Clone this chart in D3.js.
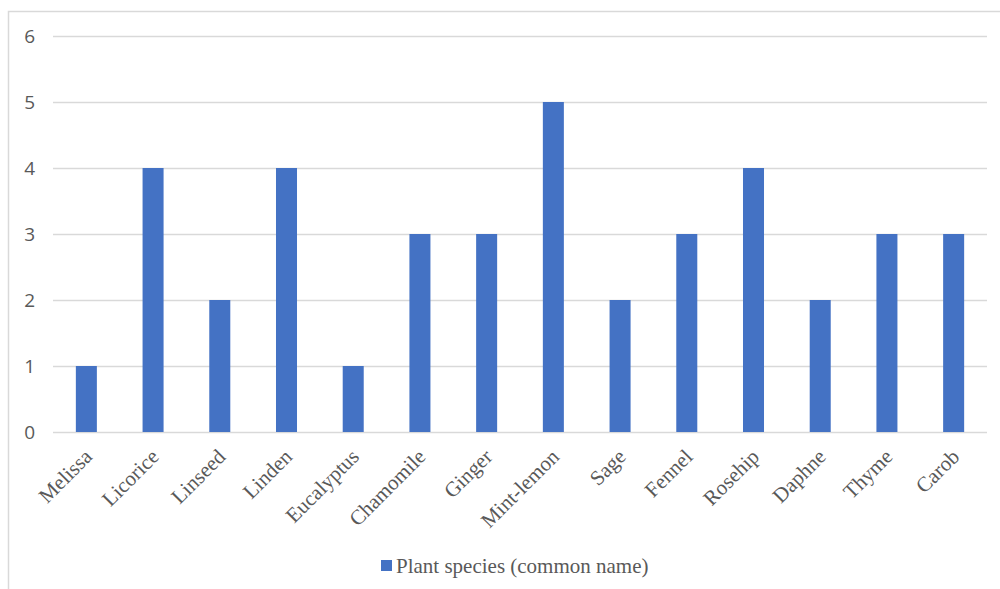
<!DOCTYPE html>
<html>
<head>
<meta charset="utf-8">
<script src="https://cdn.jsdelivr.net/npm/d3@7"></script>
<style>
  html, body { margin: 0; padding: 0; background: #fff; }
  svg { display: block; }
  .serif { font-family: "Liberation Serif", "Times New Roman", "DejaVu Serif", serif; }
  .sans { font-family: "Open Sans", "Liberation Sans", sans-serif; }
</style>
</head>
<body>
<svg id="chart" width="1000" height="589"></svg>
<script>
// Number of species per common plant name
const categories = ["Melissa", "Licorice", "Linseed", "Linden", "Eucalyptus", "Chamomile", "Ginger",
  "Mint-lemon", "Sage", "Fennel", "Rosehip", "Daphne", "Thyme", "Carob"];
const values = [1, 4, 2, 4, 1, 3, 3, 5, 2, 3, 4, 2, 3, 3];
const yTicks = [0, 1, 2, 3, 4, 5, 6];
const seriesName = "Plant species (common name)";

const svg = d3.select("#chart");
const plotLeft = 53, plotRight = 987, plotTop = 36, plotBottom = 432;

// chart frame
svg.append("rect")
  .attr("x", 8.5).attr("y", 11.5)
  .attr("width", 1100).attr("height", 700)
  .attr("fill", "#fff").attr("stroke", "#d9d9d9").attr("stroke-width", 1.5);

const x = d3.scaleBand().domain(categories).range([plotLeft, plotRight]).paddingInner(0.685).paddingOuter(0.3425);
const y = d3.scaleLinear().domain([0, 6]).range([plotBottom, plotTop]);

// gridlines and y labels
const yAxis = d3.axisLeft(y).tickValues(yTicks).tickSize(-(plotRight - plotLeft)).tickPadding(18).tickFormat(d3.format("d"));
const gy = svg.append("g").attr("transform", `translate(${plotLeft},0)`).call(yAxis)
  .attr("font-family", null).attr("font-size", null);
gy.select(".domain").remove();
gy.selectAll(".tick line").attr("stroke", "#d9d9d9").attr("stroke-width", 1.3);
gy.selectAll(".tick text")
  .attr("class", "sans")
  .attr("fill", "#595959")
  .attr("font-size", 19);

// bars
svg.append("g").selectAll("rect")
  .data(values)
  .join("rect")
  .attr("x", (d, i) => x(categories[i]))
  .attr("y", d => y(d))
  .attr("width", x.bandwidth())
  .attr("height", d => y(0) - y(d))
  .attr("fill", "#4472C4");

// category labels
const xAxis = d3.axisBottom(x).tickSize(0).tickPadding(0);
const gx = svg.append("g").attr("transform", `translate(0,${plotBottom})`).call(xAxis)
  .attr("font-family", null).attr("font-size", null);
gx.select(".domain").remove();
gx.selectAll(".tick text")
  .attr("class", "serif")
  .attr("fill", "#595959")
  .attr("font-size", 21)
  .attr("text-anchor", "end")
  .attr("dy", null)
  .attr("y", 0)
  .attr("transform", "translate(7,26) rotate(-45)");

// legend
const lg = svg.append("g").attr("transform", "translate(381,560)");
lg.append("rect").attr("width", 11).attr("height", 11).attr("fill", "#4472C4");
lg.append("text")
  .attr("class", "serif")
  .attr("x", 15).attr("y", 13)
  .attr("fill", "#595959")
  .attr("font-size", 21)
  .text(seriesName);
</script>
</body>
</html>
